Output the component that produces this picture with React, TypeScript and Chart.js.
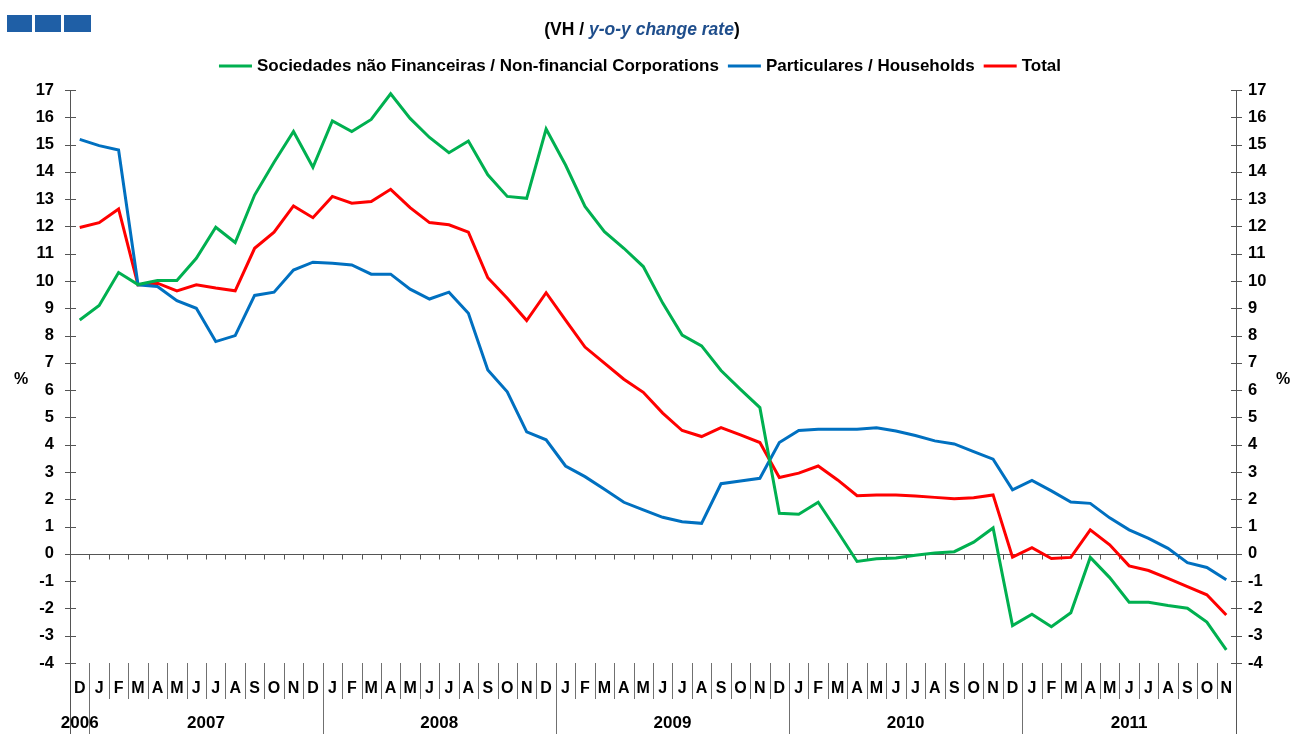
import React, { useEffect, useRef } from "react";
import { Chart, registerables } from "chart.js";

Chart.register(...registerables);

// ---------- DATA ----------
const MONTH_LABELS = [
  "D",
  "J", "F", "M", "A", "M", "J", "J", "A", "S", "O", "N", "D",
  "J", "F", "M", "A", "M", "J", "J", "A", "S", "O", "N", "D",
  "J", "F", "M", "A", "M", "J", "J", "A", "S", "O", "N", "D",
  "J", "F", "M", "A", "M", "J", "J", "A", "S", "O", "N", "D",
  "J", "F", "M", "A", "M", "J", "J", "A", "S", "O", "N",
];

const YEAR_LABELS = ["2006", "2007", "2008", "2009", "2010", "2011"];
const YEAR_START_INDEX = [0, 1, 13, 25, 37, 49];

const NFC_VALUES = [
  8.57, 9.1, 10.31, 9.87, 10.02, 10.02, 10.83, 11.97, 11.41, 13.15, 14.35, 15.48,
  14.17, 15.87, 15.48, 15.92, 16.86, 15.96, 15.26, 14.7, 15.13, 13.89, 13.1, 13.03,
  15.57, 14.25, 12.73, 11.81, 11.2, 10.53, 9.19, 8.02, 7.62, 6.72, 6.03, 5.36,
  1.49, 1.45, 1.89, 0.82, -0.28, -0.18, -0.15, -0.05, 0.03, 0.08, 0.43, 0.95,
  -2.63, -2.21, -2.67, -2.16, -0.13, -0.87, -1.77, -1.77, -1.89, -1.99, -2.5, -3.52,
];

const HOUSEHOLD_VALUES = [
  15.19, 14.96, 14.8, 9.86, 9.8, 9.28, 9.0, 7.78, 8.0, 9.47, 9.59, 10.4,
  10.69, 10.65, 10.59, 10.25, 10.25, 9.7, 9.34, 9.59, 8.82, 6.74, 5.94, 4.47,
  4.18, 3.22, 2.83, 2.37, 1.89, 1.61, 1.34, 1.18, 1.12, 2.57, 2.67, 2.77,
  4.08, 4.52, 4.57, 4.57, 4.57, 4.62, 4.5, 4.34, 4.14, 4.03, 3.75, 3.47,
  2.35, 2.69, 2.31, 1.9, 1.85, 1.32, 0.88, 0.57, 0.2, -0.32, -0.5, -0.95,
];

const TOTAL_VALUES = [
  11.96, 12.14, 12.64, 9.86, 9.92, 9.64, 9.86, 9.74, 9.64, 11.2, 11.79, 12.75,
  12.32, 13.1, 12.85, 12.91, 13.36, 12.69, 12.14, 12.06, 11.79, 10.12, 9.37, 8.55,
  9.57, 8.57, 7.58, 6.99, 6.4, 5.92, 5.16, 4.52, 4.3, 4.63, 4.36, 4.08,
  2.8, 2.96, 3.22, 2.71, 2.13, 2.16, 2.16, 2.12, 2.07, 2.02, 2.06, 2.16,
  -0.12, 0.23, -0.17, -0.13, 0.88, 0.33, -0.44, -0.61, -0.9, -1.2, -1.5, -2.24,
];

const SERIES_LABELS = [
  "Sociedades não Financeiras / Non-financial Corporations",
  "Particulares / Households",
  "Total",
];
const SERIES_COLORS = ["#00B050", "#0070C0", "#FF0000"];

const Y_MIN = -4;
const Y_MAX = 17;

const FONT_FAMILY = '"Liberation Sans Narrow", "Arial Narrow", "Liberation Sans", Arial, sans-serif';

// ---------- PLUGIN ----------
const decorPlugin = {
  id: "decor",
  beforeDatasetsDraw(chart: any) {
    const { ctx, chartArea, scales } = chart;
    const { left, right, top, bottom } = chartArea;
    const x = scales.x;
    const y = scales.y;
    const n = MONTH_LABELS.length;
    const boundary = (k: number) => {
      if (k <= 0) return left;
      if (k >= n) return right;
      return (x.getPixelForValue(k - 1) + x.getPixelForValue(k)) / 2;
    };
    const H = chart.height;

    ctx.save();
    ctx.strokeStyle = "#555555";
    ctx.lineWidth = 1;

    // zero line
    const y0 = Math.round(y.getPixelForValue(0)) + 0.5;
    ctx.beginPath();
    ctx.moveTo(left, y0);
    ctx.lineTo(right, y0);
    ctx.stroke();
    // ticks under the zero line
    for (let k = 1; k < n; k++) {
      const bx = Math.round(boundary(k)) + 0.5;
      ctx.beginPath();
      ctx.moveTo(bx, y0);
      ctx.lineTo(bx, y0 + 5);
      ctx.stroke();
    }

    // y axis crossing ticks
    for (let v = Y_MIN; v <= Y_MAX; v++) {
      const py = Math.round(y.getPixelForValue(v)) + 0.5;
      ctx.beginPath();
      ctx.moveTo(left - 5, py);
      ctx.lineTo(left + 6, py);
      ctx.moveTo(right - 5, py);
      ctx.lineTo(right + 6, py);
      ctx.stroke();
    }

    // axis lines (extend to the bottom)
    ctx.beginPath();
    ctx.moveTo(Math.round(left) + 0.5, top);
    ctx.lineTo(Math.round(left) + 0.5, H);
    ctx.moveTo(Math.round(right) + 0.5, top);
    ctx.lineTo(Math.round(right) + 0.5, H);
    ctx.stroke();

    // category separators below the plot
    ctx.strokeStyle = "#707070";
    for (let k = 1; k < n; k++) {
      const bx = Math.round(boundary(k)) + 0.5;
      const isYear = YEAR_START_INDEX.indexOf(k) >= 0;
      ctx.beginPath();
      ctx.moveTo(bx, bottom);
      ctx.lineTo(bx, isYear ? H : bottom + 36);
      ctx.stroke();
    }

    // month labels
    ctx.fillStyle = "#000";
    ctx.font = `bold 16px ${FONT_FAMILY}`;
    ctx.textAlign = "center";
    ctx.textBaseline = "middle";
    for (let i = 0; i < n; i++) {
      ctx.fillText(MONTH_LABELS[i], x.getPixelForValue(i), bottom + 26);
    }
    // year labels
    ctx.font = `bold 17px ${FONT_FAMILY}`;
    for (let j = 0; j < YEAR_LABELS.length; j++) {
      const s = YEAR_START_INDEX[j];
      const e = j + 1 < YEAR_START_INDEX.length ? YEAR_START_INDEX[j + 1] : n;
      const cx = (boundary(s) + boundary(e)) / 2;
      ctx.fillText(YEAR_LABELS[j], cx, bottom + 60);
    }

    // % labels
    const midY = y.getPixelForValue(6.4);
    ctx.font = `bold 16px ${FONT_FAMILY}`;
    ctx.fillText("%", 21, midY);
    ctx.fillText("%", 1283, midY);

    // header squares
    ctx.fillStyle = "#1F5FA6";
    ctx.fillRect(7, 15, 25, 17);
    ctx.fillRect(35, 15, 26, 17);
    ctx.fillRect(64, 15, 27, 17);

    // title
    const t1 = "(VH / ";
    const t2 = "y-o-y change rate";
    const t3 = ")";
    const tf = `bold 17.5px ${FONT_FAMILY}`;
    const tfi = `italic bold 17.5px ${FONT_FAMILY}`;
    ctx.textAlign = "left";
    ctx.font = tf;
    const w1 = ctx.measureText(t1).width;
    const w3 = ctx.measureText(t3).width;
    ctx.font = tfi;
    const w2 = ctx.measureText(t2).width;
    let tx = 642 - (w1 + w2 + w3) / 2;
    const ty = 30;
    ctx.font = tf;
    ctx.fillStyle = "#000";
    ctx.fillText(t1, tx, ty);
    tx += w1;
    ctx.font = tfi;
    ctx.fillStyle = "#1F4E8C";
    ctx.fillText(t2, tx, ty);
    tx += w2;
    ctx.font = tf;
    ctx.fillStyle = "#000";
    ctx.fillText(t3, tx, ty);

    // legend
    ctx.font = `bold 17px ${FONT_FAMILY}`;
    const sample = 33;
    const gapText = 5;
    const gapItem = 9;
    const widths = SERIES_LABELS.map((s) => ctx.measureText(s).width);
    const total =
      widths.reduce((a, b) => a + b, 0) +
      SERIES_LABELS.length * (sample + gapText) +
      (SERIES_LABELS.length - 1) * gapItem;
    let lx = 640 - total / 2;
    const ly = 66;
    for (let i = 0; i < SERIES_LABELS.length; i++) {
      ctx.strokeStyle = SERIES_COLORS[i];
      ctx.lineWidth = 3;
      ctx.beginPath();
      ctx.moveTo(lx, ly);
      ctx.lineTo(lx + sample, ly);
      ctx.stroke();
      lx += sample + gapText;
      ctx.fillStyle = "#000";
      ctx.fillText(SERIES_LABELS[i], lx, ly);
      lx += widths[i] + gapItem;
    }
    ctx.restore();
  },
};

// ---------- COMPONENT ----------
export default function App() {
  const canvasRef = useRef<HTMLCanvasElement | null>(null);

  useEffect(() => {
    if (!canvasRef.current) return;
    const yTicks = {
      color: "#000",
      font: { family: FONT_FAMILY, size: 16.5, weight: "bold" as const },
      stepSize: 1,
      autoSkip: false,
    };
    const chart = new Chart(canvasRef.current, {
      type: "line",
      data: {
        labels: MONTH_LABELS,
        datasets: [
          { label: SERIES_LABELS[0], data: NFC_VALUES, borderColor: SERIES_COLORS[0] },
          { label: SERIES_LABELS[1], data: HOUSEHOLD_VALUES, borderColor: SERIES_COLORS[1] },
          { label: SERIES_LABELS[2], data: TOTAL_VALUES, borderColor: SERIES_COLORS[2] },
        ].map((d) => ({
          ...d,
          backgroundColor: d.borderColor,
          borderWidth: 3,
          pointRadius: 0,
          tension: 0,
          fill: false,
        })),
      },
      options: {
        responsive: false,
        animation: false,
        devicePixelRatio: 1,
        layout: { padding: { left: 8, right: 0, top: 90, bottom: 71 } },
        plugins: { legend: { display: false }, tooltip: { enabled: false } },
        scales: {
          x: { type: "category", offset: true, display: false },
          y: {
            position: "left",
            min: Y_MIN,
            max: Y_MAX,
            ticks: { ...yTicks, padding: 16 },
            grid: { display: false, drawTicks: false },
            border: { display: false },
            afterFit: (s: any) => {
              s.width = 62;
            },
          },
          y2: {
            position: "right",
            min: Y_MIN,
            max: Y_MAX,
            ticks: { ...yTicks, padding: 12 },
            grid: { display: false, drawTicks: false },
            border: { display: false },
            afterFit: (s: any) => {
              s.width = 56;
            },
          },
        },
      },
      plugins: [decorPlugin],
    });
    return () => chart.destroy();
  }, []);

  return (
    <div style={{ position: "absolute", left: 0, top: 0, width: 1292, height: 734, background: "#fff" }}>
      <canvas ref={canvasRef} width={1292} height={734} />
    </div>
  );
}
